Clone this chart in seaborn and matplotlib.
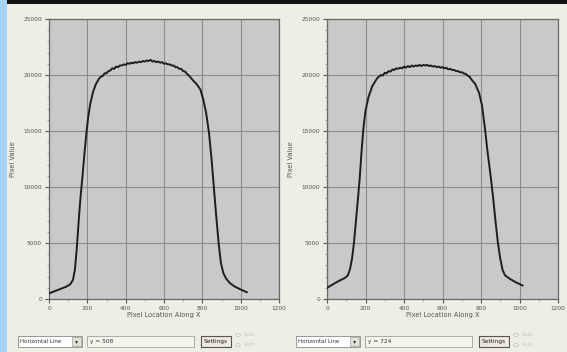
import matplotlib
matplotlib.use("Agg")
import matplotlib.pyplot as plt
from matplotlib.patches import Rectangle, Circle
import numpy as np
import pandas as pd
import seaborn as sns

# Horizontal intensity profiles of two frames (pixel location along X vs pixel value)
left_x = [0, 30, 60, 90, 110, 125, 135, 145, 155, 165, 175, 185, 195, 205, 215, 230, 245,
          260, 270, 280, 290, 300, 310, 320, 330, 340, 350, 360, 370, 380, 390, 400, 410,
          420, 430, 440, 450, 460, 470, 480, 490, 500, 510, 520, 530, 540, 550, 560, 570,
          580, 590, 600, 610, 620, 630, 640, 650, 660, 670, 680, 690, 700, 710, 720, 730,
          740, 755, 770, 790, 805, 820, 835, 848, 860, 872, 885, 897, 910, 925, 945, 970,
          1000, 1033]
left_y = [500, 700, 900, 1100, 1300, 1700, 2600, 4500, 7000, 9200, 11000, 13000, 14800,
          16300, 17400, 18500, 19200,
          19650, 19850, 19900, 20150, 20150, 20350, 20400, 20600, 20550, 20750, 20700,
          20850, 20850, 20950, 20900, 21050, 21000, 21100, 21050, 21150, 21100, 21200,
          21150, 21250, 21200, 21300, 21250, 21350, 21200, 21250, 21150, 21200, 21100,
          21150, 21000, 21050, 20950, 20950, 20850, 20850, 20700, 20700, 20550, 20550,
          20350, 20300, 20100, 19950, 19750,
          19450, 19200, 18700, 17800, 16600, 14800, 12500, 10000, 7500, 5000, 3200, 2300,
          1800, 1400, 1100, 850, 600]

right_x = [0, 30, 60, 90, 108, 120, 130, 140, 150, 160, 170, 180, 190, 200, 215, 235, 260,
           280, 290, 300, 310, 320, 330, 340, 350, 360, 370, 380, 390, 400, 410, 420, 430,
           440, 450, 460, 470, 480, 490, 500, 510, 520, 530, 540, 550, 560, 570, 580, 590,
           600, 610, 620, 630, 640, 650, 660, 670, 680, 690, 700, 710, 720, 730, 740,
           755, 770, 790, 805, 820, 835, 850, 862, 875, 888, 900, 912, 925, 950, 980, 1017]
right_y = [1000, 1300, 1600, 1850, 2100, 2700, 3600, 5000, 6900, 8800, 10800, 13300,
           15400, 16800, 18000, 19000, 19700,
           20000, 19950, 20200, 20150, 20350, 20300, 20500, 20450, 20600, 20550, 20650,
           20600, 20750, 20650, 20800, 20700, 20850, 20750, 20850, 20800, 20900, 20800,
           20900, 20850, 20900, 20800, 20850, 20750, 20800, 20700, 20750, 20650, 20700,
           20600, 20650, 20500, 20550, 20450, 20450, 20350, 20350, 20250, 20250, 20150,
           20100, 19950, 19850,
           19500, 19200, 18400, 17300, 15300, 13000, 11000, 9200, 7000, 5000, 3600, 2600,
           2100, 1800, 1500, 1200]

x_ticks = [0, 200, 400, 600, 800, 1000, 1200]
y_ticks = [0, 5000, 10000, 15000, 20000, 25000]
line_labels = ["y = 508", "y = 724"]

W, H = 567, 352
BG = "#EFEEE2"
PLOT_BG = "#C9C9C9"

sns.set_theme(style="white")
plt.rcParams["font.family"] = ["DejaVu Sans"]

fig = plt.figure(figsize=(W / 100, H / 100), dpi=100)
fig.patch.set_facecolor(BG)


def fx(x):
    return x / W


def fy(y):
    return 1 - y / H


# window chrome: blue frame edge at left, dark title band at top
fig.patches.append(Rectangle((0, 0), fx(7), 1, transform=fig.transFigure,
                             facecolor="#A8D2F4", edgecolor="none", zorder=0))
fig.patches.append(Rectangle((fx(7), fy(4)), 1, fy(0) - fy(4), transform=fig.transFigure,
                             facecolor="#111111", edgecolor="none", zorder=0))

panels = [
    (left_x, left_y, 49, 279, line_labels[0]),
    (right_x, right_y, 327, 558, line_labels[1]),
]

for xs, ys, x0, x1, lab in panels:
    ax = fig.add_axes([fx(x0), fy(299), fx(x1) - fx(x0), fy(19) - fy(299)])
    df = pd.DataFrame({"Pixel Location Along X": xs, "Pixel Value": ys})
    sns.lineplot(data=df, x="Pixel Location Along X", y="Pixel Value", ax=ax,
                 color="#1E1E1E", linewidth=1.4, sort=False, zorder=3)
    ax.set_facecolor(PLOT_BG)
    ax.set_xlim(0, 1200)
    ax.set_ylim(0, 25000)
    ax.set_xticks(x_ticks)
    ax.set_yticks(y_ticks)
    ax.set_xticklabels([str(t) for t in x_ticks], fontsize=4.2, color="#555555")
    ax.set_yticklabels([str(t) for t in y_ticks], fontsize=4.2, color="#555555")
    ax.set_xticks(np.arange(0, 1201, 100), minor=True)
    ax.set_yticks(np.arange(0, 25001, 1000), minor=True)
    ax.tick_params(axis="both", which="major", length=3, width=0.8, color="#555555", pad=2,
                   bottom=True, left=True)
    ax.tick_params(axis="both", which="minor", length=1.5, width=0.5, color="#777777",
                   bottom=True, left=True)
    ax.grid(True, which="major", color="#8C8C8C", linewidth=0.8)
    ax.set_axisbelow(True)
    for s in ax.spines.values():
        s.set_color("#6A6A6A")
        s.set_linewidth(0.9)
    ax.set_xlabel("Pixel Location Along X", fontsize=4.8, color="#555555", labelpad=1)
    ax.set_ylabel("Pixel Value", fontsize=4.8, color="#555555", labelpad=5)

    # control strip below the plot
    cx = x0 - 31
    fig.patches.append(Rectangle((fx(cx), fy(347)), fx(64), fy(336) - fy(347),
                                 transform=fig.transFigure, facecolor="white",
                                 edgecolor="#8A8A8A", linewidth=0.6))
    fig.text(fx(cx + 2), fy(341.5), "Horizontal Line", fontsize=4, color="#333333",
             va="center", ha="left")
    fig.patches.append(Rectangle((fx(cx + 54), fy(346)), fx(9), fy(337) - fy(346),
                                 transform=fig.transFigure, facecolor="#E4E2D6",
                                 edgecolor="#9A9A9A", linewidth=0.5))
    fig.text(fx(cx + 58.5), fy(341.5), "▾", fontsize=4.5, color="#333333",
             va="center", ha="center")
    fig.patches.append(Rectangle((fx(cx + 69), fy(347)), fx(107), fy(336) - fy(347),
                                 transform=fig.transFigure, facecolor="#F6F5EC",
                                 edgecolor="#A0A0A0", linewidth=0.6))
    fig.text(fx(cx + 72), fy(341.5), lab, fontsize=4.2, color="#333333",
             va="center", ha="left")
    fig.patches.append(Rectangle((fx(cx + 183), fy(347)), fx(30), fy(336) - fy(347),
                                 transform=fig.transFigure, facecolor="#ECEADC",
                                 edgecolor="#555555", linewidth=0.8))
    fig.text(fx(cx + 198), fy(341.5), "Settings", fontsize=4.2, color="#222222",
             va="center", ha="center")
    for ry in (335, 345):
        fig.patches.append(Circle((fx(cx + 220), fy(ry)), 0.004, transform=fig.transFigure,
                                  facecolor="#F4F3EA", edgecolor="#B0B0B0", linewidth=0.4))
        fig.text(fx(cx + 226), fy(ry), "Auto", fontsize=3.6, color="#C4C4BC",
                 va="center", ha="left")

fig.savefig("out.png", dpi=100, facecolor=fig.get_facecolor())
